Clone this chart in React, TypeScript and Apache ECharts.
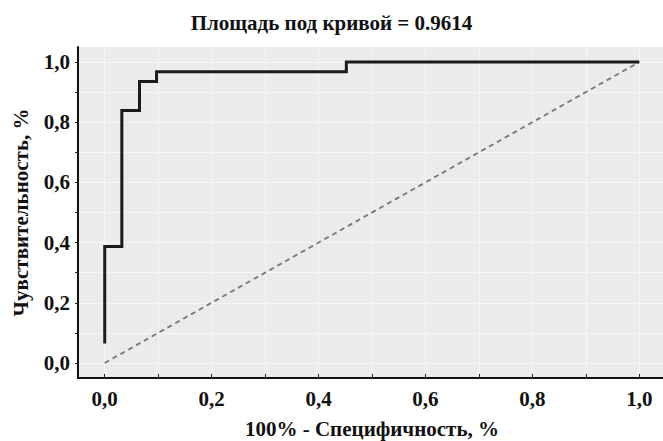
import React, { useEffect, useRef } from "react";
import * as echarts from "echarts";

const titleText = "Площадь под кривой = 0.9614";
const xAxisName = "100% - Специфичность, %";
const yAxisName = "Чувствительность, %";

// ROC curve corner points (1 - specificity, sensitivity)
const rocFpr = [0, 0, 0.032, 0.065, 0.097, 0.452, 1.0];
const rocTpr = [0.065, 0.387, 0.839, 0.935, 0.968, 1.0, 1.0];

// reference diagonal
const diagX = [0, 1];
const diagY = [0, 1];

const labelValues = [0, 0.2, 0.4, 0.6, 0.8, 1.0];
const tickValues = [0, 0.1, 0.2, 0.3, 0.4, 0.5, 0.6, 0.7, 0.8, 0.9, 1.0];

const FONT = "'Liberation Serif', 'Times New Roman', serif";

export default function App() {
  const ref = useRef<HTMLDivElement>(null);
  useEffect(() => {
    if (!ref.current) return;
    const chart = echarts.init(ref.current, null, { renderer: "svg" });
    const fmt = (v: number) => v.toFixed(1).replace(".", ",");
    const axisCommon = {
      type: "value",
      min: -0.05,
      max: 1.05,
      axisLine: { show: true, onZero: false, lineStyle: { color: "#111", width: 2 } },
      axisTick: { show: true, inside: true, length: 4, customValues: tickValues, lineStyle: { color: "#222", width: 1 } },
      axisLabel: {
        customValues: labelValues,
        formatter: fmt,
        color: "#111",
        fontFamily: FONT,
        fontWeight: "bold",
        fontSize: 21,
      },
      splitLine: { show: true, lineStyle: { color: "rgba(255,255,255,0.55)", width: 1 } },
    };
    chart.setOption({
      animation: false,
      backgroundColor: "#ffffff",
      title: {
        text: titleText,
        left: "center",
        top: 7,
        textStyle: { fontFamily: FONT, fontWeight: "bold", fontSize: 21, color: "#111" },
      },
      grid: {
        left: 78,
        right: -3,
        top: 47,
        bottom: 63,
        show: true,
        backgroundColor: "#ebebeb",
        borderWidth: 0,
        containLabel: false,
        outerBoundsMode: "none",
      },
      xAxis: {
        ...axisCommon,
        name: xAxisName,
        nameLocation: "middle",
        nameGap: 40,
        nameTextStyle: { fontFamily: FONT, fontWeight: "bold", fontSize: 21, color: "#111" },
        axisLabel: { ...axisCommon.axisLabel, margin: 10 },
      },
      yAxis: {
        ...axisCommon,
        name: yAxisName,
        nameLocation: "middle",
        nameGap: 47,
        nameTextStyle: { fontFamily: FONT, fontWeight: "bold", fontSize: 21, color: "#111" },
        axisTick: { ...axisCommon.axisTick, inside: false, length: 3 },
        axisLabel: { ...axisCommon.axisLabel, margin: 8 },
      },
      series: [
        {
          type: "line",
          data: diagX.map((x, i) => [x, diagY[i]]),
          symbol: "none",
          lineStyle: { color: "#767676", width: 1.8, type: [5, 4] },
          z: 2,
        },
        {
          type: "line",
          step: "end",
          data: rocFpr.map((x, i) => [x, rocTpr[i]]),
          symbol: "none",
          lineStyle: { color: "#1a1a1a", width: 3, join: "miter" },
          z: 3,
        },
      ],
    });
    return () => chart.dispose();
  }, []);
  return <div ref={ref} style={{ width: 663, height: 441, position: "absolute", left: 0, top: 0 }} />;
}
